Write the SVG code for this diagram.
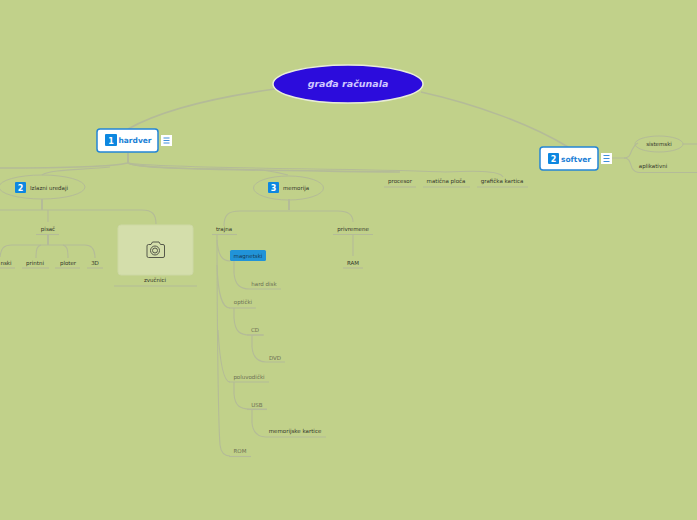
<svg xmlns="http://www.w3.org/2000/svg" width="697" height="520" viewBox="0 0 697 520">
<style>
text{font-family:"DejaVu Sans",Verdana,sans-serif;font-size:5.5px;fill:#33362a;text-anchor:middle}
.f{fill:#6c7054}
.c path,.u{fill:none;stroke:#b4bb98;stroke-width:1.1}
.c .t{stroke-width:2}
.c .w{stroke-width:1.600}
.main{fill:#fff;stroke:#2385d6;stroke-width:1.500}
.mt{font-size:7.500px;font-weight:bold;fill:#1c7fd6}
.ic{fill:#0d87e0}
.in{font-size:8px;font-weight:bold;fill:#fff}
.ell{fill:none;stroke:#b4bb98;stroke-width:1}
.m{fill:#fff}
.b{stroke:#3f8fdc;stroke-width:1}
</style>
<rect width="697" height="520" fill="#c1d18a"/>
<g class="c" id="connectors">
<path d="M128 129C165 108 225 96 275 89" class="w"/>
<path d="M421 92C475 104 530 124 568 147" class="w"/>
<path d="M128 153V163" class="t"/>
<path d="M128 163C110 167 60 168 0 168" class="w"/>
<path d="M110 167C85 170 50 169 42 175"/>
<path d="M128 163C140 170 230 168 262 170C270 171 280 173 288 175"/>
<path d="M128 163C140 170 260 170 400 172" class="w"/>
<path d="M128 163C160 169 360 168 445 172C470 171 500 170 503 177"/>
<path d="M42 199V210" class="t"/>
<path d="M0 210H142C152 210 156 214 156 224"/>
<path d="M48 210V222"/>
<path d="M48 235V245" class="t"/>
<path d="M0 257C1 248 4 245 12 245H85C92 245 95 250 95 258"/>
<path d="M36 258C36 249 37 246 41 245M68 258C68 249 67 246 63 245"/>
<path d="M289 199V210" class="t"/>
<path d="M224 226C224 215 228 211 240 211H338C349 211 353 215 353 222"/>
<path d="M353 235V256"/>
<path d="M217 235C217 300 218 420 220 445C221 453 225 456 230 456"/>
<path d="M217 240C218 255 222 261 230 261"/>
<path d="M217 265C218 295 222 308 230 308"/>
<path d="M218 330C220 365 224 382 230 382"/>
<path d="M234 261V273C235 285 240 289 250 289H281"/>
<path d="M234 308V318C235 332 240 335 250 335H263"/>
<path d="M252 335V347C253 358 258 362 266 362H285"/>
<path d="M234 382V394C235 406 240 409 250 409H267"/>
<path d="M252 409V423C253 433 258 437 266 437H326"/>
<path d="M612 158H624C630 158 630 154 632 150C634 146 636 144 638 143"/>
<path d="M624 158C630 158 630 163 632 168C634 172 637 172.500 640 172.500H697"/>
<path d="M683 144H697"/>
</g>
<g id="center"><ellipse cx="348" cy="84" rx="75" ry="19" fill="#2c0cdc" stroke="#e8ecd8" stroke-width="1.500"/><text x="348" y="87" style="font-size:9.500px;font-weight:bold;font-style:italic;fill:#cfc8ff">građa računala</text></g>
<g id="hardver"><rect x="97" y="129" width="61" height="23" rx="3" class="main"/><rect x="105" y="134" width="12" height="12" rx="1" class="ic"/><text x="111" y="143.500" class="in">1</text><text x="135" y="143" class="mt">hardver</text><rect x="161" y="135" width="11" height="11" class="m"/><path d="M163.500 138h6M163.500 140.500h6M163.500 143h6" class="b"/></g>
<g id="softver"><rect x="540" y="147" width="58" height="23" rx="3" class="main"/><rect x="548" y="153" width="11" height="11" rx="1" class="ic"/><text x="553.500" y="162" class="in">2</text><text x="576" y="161.500" class="mt">softver</text><rect x="601" y="153" width="11" height="11" class="m"/><path d="M603.500 155.500h6M603.500 158.500h6M603.500 161.500h6" class="b"/></g>
<g id="izlazni"><ellipse cx="42" cy="187" rx="43" ry="12" class="ell"/><rect x="15" y="182" width="11" height="11" rx="1" class="ic"/><text x="20.500" y="191" class="in">2</text><text x="49" y="190">Izlazni uređaji</text></g>
<g id="memorija"><ellipse cx="288.500" cy="188" rx="35" ry="12" class="ell"/><rect x="268" y="182" width="11" height="11" rx="1" class="ic"/><text x="273.500" y="191" class="in">3</text><text x="296" y="190">memorija</text></g>
<g id="pisac"><text x="48" y="231">pisač</text><path d="M36 234.500H59" class="u"/></g>
<g id="inkjet"><text x="0.500" y="265" style="text-anchor:start">nski</text><path d="M0 268H15" class="u"/></g>
<g id="printni"><text x="35" y="265">printni</text><path d="M22 268H49" class="u"/></g>
<g id="ploter"><text x="68" y="265">ploter</text><path d="M55 268H80" class="u"/></g>
<g id="d3"><text x="95" y="265">3D</text><path d="M87 268H103" class="u"/></g>
<g id="zvucnici"><rect x="118" y="225" width="75" height="50" rx="3" fill="#d4deab" stroke="#cdd8a4"/><g fill="none" stroke="#55584a" stroke-width="1"><path d="M147 256V246Q147 244.500 148.500 244.500H151L152.500 242H159L160.500 244.500H163Q164.500 244.500 164.500 246V256Q164.500 257.500 163 257.500H148.500Q147 257.500 147 256Z"/><circle cx="155" cy="250.500" r="4.500"/><circle cx="155" cy="250.500" r="2.500"/></g><text x="155" y="282">zvučnici</text><path d="M114 286H197" class="u"/></g>
<g id="procesor"><text x="400" y="183">procesor</text><path d="M384 187H416" class="u"/></g>
<g id="maticna"><text x="446" y="183">matična ploča</text><path d="M423 187H470" class="u"/></g>
<g id="graficka"><text x="502" y="183">grafička kartica</text><path d="M477 187H528" class="u"/></g>
<g id="sistemski"><ellipse cx="659" cy="144" rx="24" ry="8" class="ell"/><text x="659" y="146">sistemski</text></g>
<g id="aplikativni"><text x="653" y="168">aplikativni</text></g>
<g id="trajna"><text x="224" y="231">trajna</text><path d="M212 234.500H237" class="u"/></g>
<g id="privremene"><text x="353" y="231">privremene</text><path d="M333 234.500H373" class="u"/></g>
<g id="ram"><text x="353" y="265">RAM</text><path d="M343 268H363" class="u"/></g>
<g id="magnetski"><rect x="230" y="250" width="36" height="11" rx="1.500" fill="#2193d8"/><text x="248" y="258" style="fill:#173a55">magnetski</text></g>
<g id="harddisk"><text x="264" y="286" class="f">hard disk</text></g>
<g id="opticki"><text x="243" y="304" class="f">optički</text><path d="M229 308H256" class="u"/></g>
<g id="cd"><text x="255" y="332" class="f">CD</text><path d="M247 335H264" class="u"/></g>
<g id="dvd"><text x="275" y="360" class="f">DVD</text></g>
<g id="poluvodicki"><text x="249" y="379" class="f">poluvodički</text><path d="M229 382H269" class="u"/></g>
<g id="usb"><text x="257" y="407" class="f">USB</text><path d="M247 409.500H267" class="u"/></g>
<g id="memkartice"><text x="295" y="433">memorijske kartice</text></g>
<g id="rom"><text x="240" y="453" class="f">ROM</text><path d="M229 456.500H251" class="u"/></g>
</svg>
